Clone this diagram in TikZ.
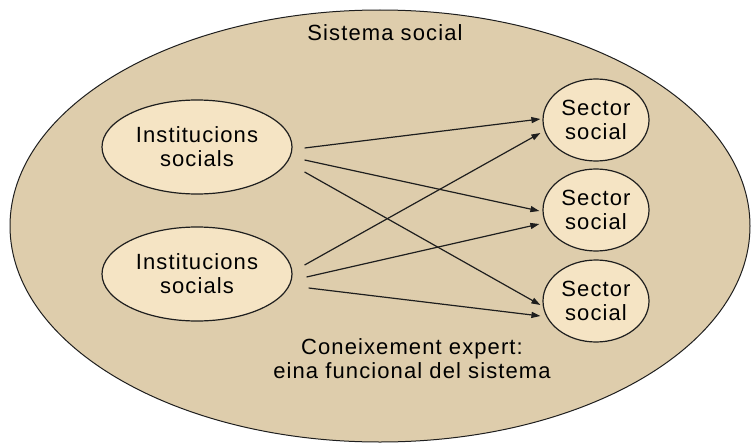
\documentclass[tikz,border=0pt]{standalone}
\usepackage{fontspec}
\setmainfont[LetterSpace=5]{Liberation Sans}
\usetikzlibrary{shapes.geometric,arrows.meta,calc}
\definecolor{outerfill}{RGB}{222,205,172}
\definecolor{innerfill}{RGB}{245,228,196}
\definecolor{edgecol}{RGB}{30,30,30}
\begin{document}
\begin{tikzpicture}[x=1pt,y=-1pt,
  every node/.style={font=\fontsize{22}{24}\selectfont, text=black},
  bigell/.style={ellipse, draw=edgecol, line width=1pt, fill=outerfill, inner sep=0pt, minimum width=740pt, minimum height=432pt},
  instell/.style={ellipse, draw=edgecol, line width=1.2pt, fill=innerfill, inner sep=0pt, minimum width=190pt, minimum height=94pt, align=center},
  sectell/.style={ellipse, draw=edgecol, line width=1.2pt, fill=innerfill, inner sep=0pt, minimum width=106pt, minimum height=82pt, align=center},
  conn/.style={draw=edgecol, line width=1.2pt, -{Triangle[length=9pt,width=6pt]}},
  plain/.style={align=center, inner sep=0pt}]
\useasboundingbox (0,0) rectangle (752,444);
\node[bigell] (sys) at (380,226) {};
\node[plain] (title) at (385,33) {Sistema social};
\node[instell] (i1) at (197,147) {Institucions\\socials};
\node[instell] (i2) at (197,274) {Institucions\\socials};
\node[sectell] (s1) at (596,120) {Sector\\social};
\node[sectell] (s2) at (596,210) {Sector\\social};
\node[sectell] (s3) at (596,301) {Sector\\social};
\node[plain] (know) at (412,359) {Coneixement expert:\\eina funcional del sistema};
\draw[conn] ($(i1.east)+(12,1)$) -- ($(s1.west)+(-2,-1)$);
\draw[conn] ($(i1.east)+(12,13)$) -- ($(s2.west)+(-3,1)$);
\draw[conn] ($(i1.east)+(12,25)$) -- ($(s3.west)+(-2,4)$);
\draw[conn] ($(i2.east)+(12,-9)$) -- ($(s1.west)+(-2,13)$);
\draw[conn] ($(i2.east)+(14,3)$) -- ($(s2.west)+(-3,14)$);
\draw[conn] ($(i2.east)+(16,14)$) -- ($(s3.west)+(-2,15)$);
\end{tikzpicture}
\end{document}
